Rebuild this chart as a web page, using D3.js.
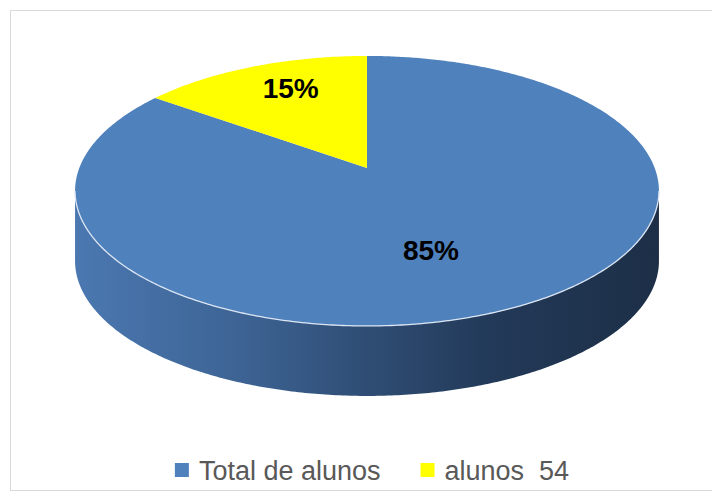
<!DOCTYPE html>
<html>
<head>
<meta charset="utf-8">
<script src="https://cdn.jsdelivr.net/npm/d3@7"></script>
<style>
  body { margin: 0; background: #fff; }
  svg { display: block; }
</style>
</head>
<body>
<svg width="712" height="493"></svg>
<script>
var categories = ["Total de alunos", "alunos  54"];
var values = [306, 54];
var colors = ["#4f81bd", "#ffff00"];

var width = 712, height = 493;
var svg = d3.select("svg");

// frame
svg.append("rect")
  .attr("x", 10.5).attr("y", 10.5)
  .attr("width", 720).attr("height", 480)
  .style("fill", "none")
  .style("stroke", "#d9d9d9");

// 3d pie geometry (perspective disc)
var cx = 367, cy = 168;
var A = 287.7, B = 131.1, k = 0.17;
var depth = 70;

function proj(a, r, dy) {
  var u = r * Math.sin(a), v = r * Math.cos(a);
  var s = 1 + k * v;
  return [cx + A * u / s, cy - B * v / s + (dy || 0)];
}

function arcPts(a0, a1, r, dy) {
  var n = Math.max(2, Math.ceil(Math.abs(a1 - a0) / 0.01));
  return d3.range(n + 1).map(function(i) {
    return proj(a0 + (a1 - a0) * i / n, r, dy);
  });
}

var total = d3.sum(values);
var pie = d3.pie().sort(null).value(function(d) { return d; });
var slices = pie(values);

var line = d3.line();

// silhouette angles (left/right extremes of the projected ellipse)
var frontStart = Math.PI - Math.acos(-k) + Math.PI / 2;
frontStart = Math.atan2(Math.sqrt(1 - k * k), -k);
var frontEnd = 2 * Math.PI - frontStart;

var defs = svg.append("defs");
var grad = defs.append("linearGradient")
  .attr("id", "side")
  .attr("gradientUnits", "userSpaceOnUse")
  .attr("x1", proj(frontEnd, 1)[0]).attr("x2", proj(frontStart, 1)[0])
  .attr("y1", 0).attr("y2", 0);
[[0, "#4b78b1"], [0.3, "#3c6292"], [0.5, "#2f4d74"], [0.72, "#223958"], [1, "#1d2f47"]]
  .forEach(function(s) {
    grad.append("stop").attr("offset", s[0]).attr("stop-color", s[1]);
  });

// side walls
slices.forEach(function(d) {
  var a0 = Math.max(d.startAngle, frontStart);
  var a1 = Math.min(d.endAngle, frontEnd);
  if (a1 <= a0) return;
  var top = arcPts(a0, a1, 1, 0);
  var bottom = arcPts(a1, a0, 1, depth);
  svg.append("path")
    .attr("d", line(top.concat(bottom)) + "Z")
    .style("fill", "url(#side)");
});

// top faces
svg.selectAll("path.top")
  .data(slices)
  .enter()
  .append("path")
  .attr("class", "top")
  .attr("d", function(d) {
    return line([[cx, cy]].concat(arcPts(d.startAngle, d.endAngle, 1, 0))) + "Z";
  })
  .style("fill", function(d, i) { return colors[i]; });

// light rim on the front edge
svg.append("path")
  .attr("d", line(arcPts(frontStart, frontEnd, 1, 0)))
  .style("fill", "none")
  .style("stroke", "#dbe5f3")
  .style("stroke-width", 1.3);

// percentage labels
svg.selectAll("text.pct")
  .data(slices)
  .enter()
  .append("text")
  .attr("class", "pct")
  .attr("transform", function(d) {
    var mid = (d.startAngle + d.endAngle) / 2;
    var r = d.value / total > 0.5 ? 0.6 : 0.74;
    if (d.value / total > 0.5) mid += 0.13;
    else mid += 0.06;
    var p = proj(mid, r);
    return "translate(" + p[0] + "," + p[1] + ")";
  })
  .attr("text-anchor", "middle")
  .attr("dy", "0.36em")
  .style("font-family", "'Liberation Sans Narrow', 'Liberation Sans', Arial, sans-serif")
  .style("font-weight", "bold")
  .style("font-size", "28px")
  .style("fill", "#000")
  .text(function(d) { return Math.round(d.value / total * 100) + "%"; });

// legend
var legend = svg.append("g");
var items = legend.selectAll("g")
  .data(categories)
  .enter()
  .append("g");

items.append("rect")
  .attr("y", 463)
  .attr("width", 14).attr("height", 14)
  .style("fill", function(d, i) { return colors[i]; });

items.append("text")
  .attr("x", 24)
  .attr("y", 480)
  .style("font-family", "'Liberation Sans', Arial, sans-serif")
  .style("font-size", "27px")
  .style("fill", "#595959")
  .style("white-space", "pre")
  .text(function(d) { return d; });

var xpos = 0, offsets = [];
items.each(function(d, i) {
  offsets.push(xpos);
  xpos += 24 + d3.select(this).select("text").node().getComputedTextLength() + 40;
});
var legendW = xpos - 40;
var legendX = 372 - legendW / 2;
items.attr("transform", function(d, i) { return "translate(" + (legendX + offsets[i]) + ",0)"; });
</script>
</body>
</html>
